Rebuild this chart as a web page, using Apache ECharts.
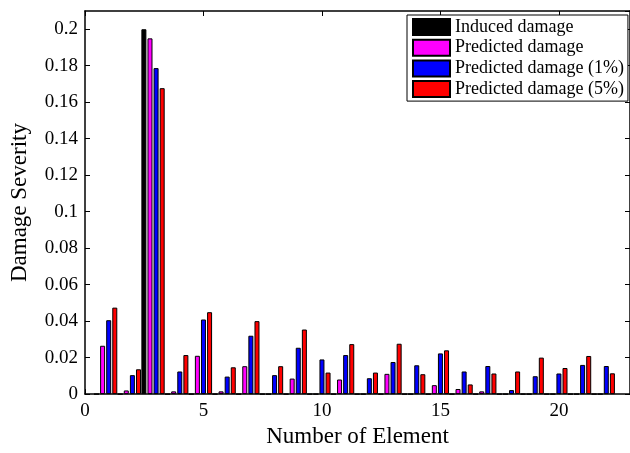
<!DOCTYPE html>
<html>
<head>
<meta charset="utf-8">
<script src="https://cdn.jsdelivr.net/npm/echarts@6/dist/echarts.min.js"></script>
<style>html,body{margin:0;padding:0;background:#fff}#c{width:630px;height:453px}</style>
</head>
<body>
<div id="c"></div>
<script>
var elements = [1,2,3,4,5,6,7,8,9,10,11,12,13,14,15,16,17,18,19,20,21,22];
var induced   = [0,0,0.2,0,0,0,0,0,0,0,0,0,0,0,0,0,0,0,0,0,0,0];
var predicted = [0.0265,0.002,0.195,0.0015,0.021,0.0015,0.0153,0,0.0085,0,0.008,0,0.0111,0,0.0049,0.0028,0.0015,0,0,0,0,0];
var pred1     = [0.0405,0.0104,0.1787,0.0124,0.0409,0.0096,0.032,0.0104,0.0254,0.019,0.0214,0.0087,0.0176,0.0158,0.0223,0.0124,0.0154,0.0022,0.0098,0.0113,0.016,0.0154];
var pred5     = [0.0474,0.0136,0.1677,0.0214,0.0449,0.0147,0.04,0.0153,0.0354,0.0118,0.0274,0.0118,0.0276,0.0109,0.024,0.0053,0.0113,0.0124,0.02,0.0143,0.0209,0.0114];
var seriesNames = ['Induced damage','Predicted damage','Predicted damage (1%)','Predicted damage (5%)'];
var colors = ['#000000','#ff00ff','#0000ff','#ff0000'];

function pairs(v){ return elements.map(function(x,i){ return [x, v[i]]; }); }
var font = 'Liberation Serif';
var barSeries = [induced, predicted, pred1, pred5].map(function(v, k){
  return {
    name: seriesNames[k], type: 'bar', data: pairs(v),
    barWidth: 5, barGap: '22%',
    itemStyle: { color: colors[k], borderColor: '#000', borderWidth: 1 },
    emphasis: { disabled: true }
  };
});
barSeries.push({
  name: 'spacer', type: 'bar', data: pairs(elements.map(function(){return 0;})),
  barWidth: 5, barGap: '22%', silent: true,
  itemStyle: { color: 'rgba(0,0,0,0)', borderWidth: 0 }
});

var chart = echarts.init(document.getElementById('c'), null, {renderer: 'canvas'});
function axisCommon(){
  return {
    axisLine: { onZero: false, lineStyle: { color: '#000', width: 1.5 } },
    axisTick: { inside: true, length: 5, lineStyle: { color: '#000', width: 1 } },
    splitLine: { show: false }
  };
}
chart.setOption({
  animation: false,
  backgroundColor: '#fff',
  grid: { left: 83, right: -3, top: 11, bottom: 57, containLabel: false },
  legend: {
    data: seriesNames, orient: 'vertical', left: 407, top: 15,
    icon: 'rect',
    itemWidth: 37, itemHeight: 16, itemGap: 2.7,
    padding: [3, 4, 3, 5],
    borderColor: '#000', borderWidth: 1, backgroundColor: '#fff',
    textStyle: { fontFamily: font, fontSize: 18, color: '#000', lineHeight: 18 },
    selectedMode: false
  },
  xAxis: [
    Object.assign({
      type: 'value', min: 0, max: 23, interval: 5, position: 'bottom',
      name: 'Number of Element', nameLocation: 'middle', nameGap: 28,
      nameTextStyle: { fontFamily: font, fontSize: 23, color: '#000' },
      axisLabel: { fontFamily: font, fontSize: 19, color: '#000', margin: 7, showMaxLabel: false }
    }, axisCommon()),
    Object.assign({
      type: 'value', min: 0, max: 23, interval: 5, position: 'top',
      axisLabel: { show: false }
    }, axisCommon())
  ],
  yAxis: [
    Object.assign({
      type: 'value', min: 0, max: 0.21, interval: 0.02, position: 'left',
      name: 'Damage Severity', nameLocation: 'middle', nameGap: 54,
      nameTextStyle: { fontFamily: font, fontSize: 23, color: '#000' },
      axisLabel: { fontFamily: font, fontSize: 19, color: '#000', margin: 7, showMaxLabel: false }
    }, axisCommon()),
    Object.assign({
      type: 'value', min: 0, max: 0.21, interval: 0.02, position: 'right',
      axisLabel: { show: false }
    }, axisCommon())
  ],
  series: barSeries
});
</script>
</body>
</html>
